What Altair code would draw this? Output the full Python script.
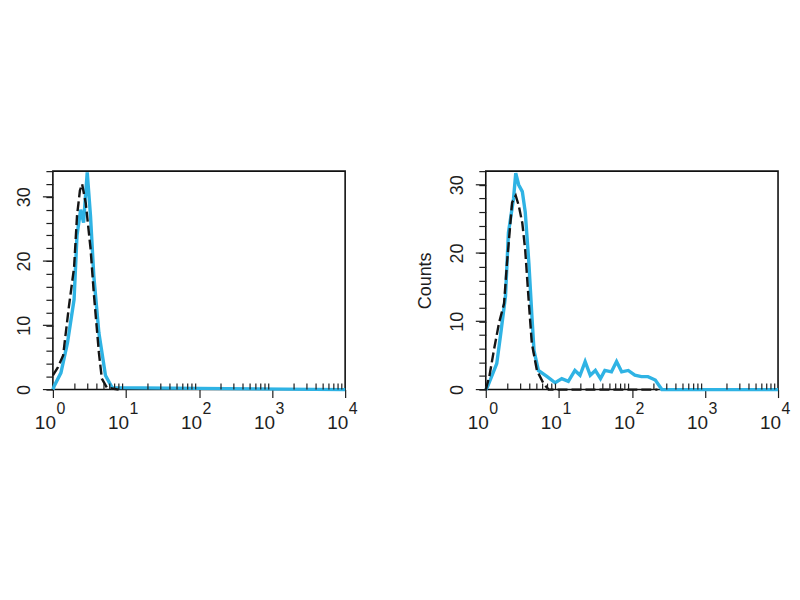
import altair as alt
import pandas as pd
import numpy as np

# x values are in decades (log10 of fluorescence), y values are counts
left_ctrl_x = [0.00, 0.07, 0.14, 0.22, 0.29, 0.33, 0.37, 0.40, 0.45, 0.515, 0.56, 0.63, 0.67, 0.74, 0.90]
left_ctrl_y = [2.2, 3.5, 5.3, 13.0, 19.0, 27.0, 31.0, 32.0, 29.0, 22.0, 15.0, 5.7, 1.7, 0.3, 0.0]

left_samp_x = [0.00, 0.02, 0.11, 0.20, 0.29, 0.33, 0.38, 0.42, 0.47, 0.515, 0.56, 0.63, 0.72, 0.81, 4.00]
left_samp_y = [0.0, 0.6, 2.6, 7.3, 14.0, 24.0, 28.0, 26.0, 33.8, 27.0, 17.7, 8.8, 2.2, 0.3, 0.0]

right_ctrl_x = [0.00, 0.05, 0.11, 0.18, 0.25, 0.29, 0.34, 0.36, 0.41, 0.45, 0.50, 0.54, 0.59, 0.63, 0.70, 0.79, 0.86, 2.35]
right_ctrl_y = [0.0, 2.0, 5.7, 9.7, 12.6, 18.5, 24.8, 27.4, 28.4, 27.0, 24.4, 20.4, 12.6, 6.8, 2.8, 0.9, 0.0, 0.0]

right_samp_x = [0.00, 0.02, 0.15, 0.20, 0.27, 0.31, 0.38, 0.41, 0.45, 0.50, 0.54, 0.59, 0.63, 0.66,
                0.72, 0.84, 0.95, 1.04, 1.13, 1.22, 1.29, 1.36, 1.43, 1.50, 1.57, 1.63, 1.72, 1.79,
                1.86, 1.95, 2.04, 2.13, 2.22, 2.32, 2.41, 4.00]
right_samp_y = [0.0, 0.3, 3.8, 7.8, 13.7, 23.0, 28.0, 31.7, 30.0, 29.0, 26.0, 18.5, 11.0, 5.7,
                2.8, 1.9, 1.0, 1.6, 1.2, 2.8, 2.1, 4.1, 2.1, 2.8, 1.6, 2.8, 2.6, 4.1,
                2.6, 2.8, 2.1, 1.9, 1.9, 1.4, 0.0, 0.0]

decade_ticks = [0, 1, 2, 3, 4]
exponent_labels = ["0", "1", "2", "3", "4"]
minor_mult = [2, 3, 4, 5, 6, 7, 8, 9]
major_counts = [0, 10, 20, 30]

rows = []
def add(panel, series, xs, ys):
    for i, (x, y) in enumerate(zip(xs, ys)):
        rows.append({"panel": panel, "series": series, "idx": i, "logx": x, "count": y})

add("left", "control", left_ctrl_x, left_ctrl_y)
add("left", "sample", left_samp_x, left_samp_y)
add("right", "control", right_ctrl_x, right_ctrl_y)
add("right", "sample", right_samp_x, right_samp_y)
df = pd.DataFrame(rows)

minor_pos = [d + float(np.log10(m)) for d in decade_ticks[:-1] for m in minor_mult]
ticks_df = pd.DataFrame({"logx": minor_pos})
exp_df = pd.DataFrame({"logx": decade_ticks, "exp": exponent_labels})
major_df = pd.DataFrame({"count": major_counts})

W = 293
H = 219
CYAN = "#2fb3e4"
INK = "#1e1e1e"
FONT = "Liberation Sans"


def panel(name, ymax, title):
    xscale = alt.Scale(domain=[0, 4], nice=False, zero=False)
    xaxis = alt.Axis(values=decade_ticks, labelExpr="'10'", labelOffset=-8,
                     ticks=True, tickSize=8, tickColor=INK, tickWidth=1.2,
                     domain=False, grid=False, labelPadding=16, title=None, labelFlush=False,
                     labelFontSize=19, labelFont=FONT, labelColor=INK, labelOverlap=False)
    yaxis_kwargs = dict(values=list(range(0, ymax + 1, 2)),
                        labelExpr="datum.value % 10 == 0 ? datum.value : ''",
                        tickSize=7, tickColor=INK, tickWidth=1.2, labelAngle=270, labelAlign="center",
                        labelBaseline="bottom", grid=False, domain=False, labelPadding=12,
                        labelFontSize=18, labelFont=FONT, labelColor=INK, labelOverlap=False)
    if title:
        yaxis = alt.Axis(title=title, titleFont=FONT, titleFontSize=18, titleFontWeight="normal",
                         titleColor=INK, titlePadding=14, **yaxis_kwargs)
    else:
        yaxis = alt.Axis(title=None, **yaxis_kwargs)
    yscale = alt.Scale(domain=[0, ymax], nice=False)

    base = alt.Chart(df).transform_filter(alt.datum.panel == name)
    samp = base.transform_filter(alt.datum.series == "sample").mark_line(
        color=CYAN, strokeWidth=3.4, clip=False
    ).encode(x=alt.X("logx:Q", scale=xscale, axis=xaxis),
             y=alt.Y("count:Q", scale=yscale, axis=yaxis),
             order="idx:Q")
    ctrl = base.transform_filter(alt.datum.series == "control").mark_line(
        color="#151515", strokeWidth=2.4, strokeDash=[10, 4]
    ).encode(x=alt.X("logx:Q", scale=xscale, axis=xaxis),
             y=alt.Y("count:Q", scale=yscale, axis=yaxis),
             order="idx:Q")
    ticks = alt.Chart(ticks_df).mark_rule(color=INK, strokeWidth=1.2).encode(
        x=alt.X("logx:Q", scale=xscale, axis=xaxis),
        y=alt.value(H), y2=alt.value(H - 6))
    majors = alt.Chart(major_df).mark_rule(color=INK, strokeWidth=1.2).encode(
        y=alt.Y("count:Q", scale=yscale, axis=yaxis),
        x=alt.value(-10), x2=alt.value(0))
    exps = alt.Chart(exp_df).mark_text(
        font=FONT, fontSize=16, color=INK, align="center", baseline="top", dx=8
    ).encode(x=alt.X("logx:Q", scale=xscale, axis=xaxis), y=alt.value(H + 11), text="exp:N")
    return alt.layer(samp, ctrl, ticks, majors, exps).properties(width=W, height=H)


left = panel("left", 34, None)
right = panel("right", 32, "Counts")

chart = alt.hconcat(left, right, spacing=57).properties(
    padding={"left": 7, "top": 156, "right": 0, "bottom": 5},
    background="white"
).configure_view(stroke="#111", strokeWidth=1.6)

chart.save("out.html", embed_options={"renderer": "svg", "actions": False})
